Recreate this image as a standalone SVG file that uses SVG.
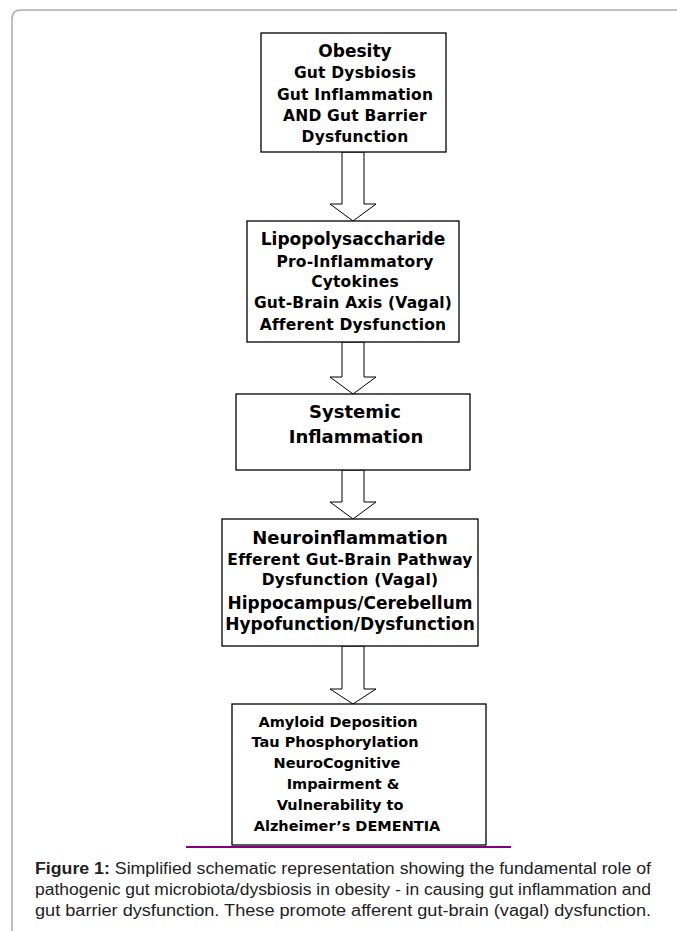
<svg xmlns="http://www.w3.org/2000/svg" width="677" height="931" viewBox="0 0 677 931">
<style>
.box{fill:#fff;stroke:#000;stroke-width:1.3}
.arr{fill:#fff;stroke:#000;stroke-width:1}
.t{font-family:"DejaVu Sans",Verdana,sans-serif;font-weight:bold;fill:#000;text-anchor:middle}
.s{font-size:15.5px;letter-spacing:0.2px}
.x{font-size:14.5px}
.l{font-size:17px}
.m{font-size:18px}
.cap{font-family:"Liberation Sans",Arial,sans-serif;font-size:16px;fill:#222}
</style>
<rect width="677" height="931" fill="#fff"/>
<path d="M12,931 V19 Q12,10 21,10 H677" fill="none" stroke="#aaa" stroke-width="1.5"/>
<g id="connectors">
<polygon class="arr" points="342,152 364,152 364,204 376,204 353,221 330,204 342,204"/>
<polygon class="arr" points="342,342 364,342 364,377 376,377 353,394 330,377 342,377"/>
<polygon class="arr" points="342,470 364,470 364,502 376,502 353,519 330,502 342,502"/>
<polygon class="arr" points="342,646 364,646 364,689 376,689 353,704 330,689 342,689"/>
</g>
<g id="n1">
<rect class="box" x="261" y="33" width="185" height="119"/>
<text class="t l" x="355" y="57">Obesity</text>
<text class="t s" x="355" y="78">Gut Dysbiosis</text>
<text class="t s" x="355" y="100">Gut Inflammation</text>
<text class="t s" x="355" y="121">AND Gut Barrier</text>
<text class="t s" x="355" y="142">Dysfunction</text>
</g>
<g id="n2">
<rect class="box" x="247" y="221" width="212" height="121"/>
<text class="t l" x="353" y="245">Lipopolysaccharide</text>
<text class="t s" x="355" y="267">Pro-Inflammatory</text>
<text class="t s" x="355" y="287">Cytokines</text>
<text class="t s" x="353" y="308">Gut-Brain Axis (Vagal)</text>
<text class="t s" x="353" y="330">Afferent Dysfunction</text>
</g>
<g id="n3">
<rect class="box" x="236" y="394" width="234" height="76"/>
<text class="t m" x="355" y="418">Systemic</text>
<text class="t m" x="356" y="443">Inflammation</text>
</g>
<g id="n4">
<rect class="box" x="222" y="519" width="256" height="127"/>
<text class="t m" x="350" y="544">Neuroinflammation</text>
<text class="t s" x="350" y="565">Efferent Gut-Brain Pathway</text>
<text class="t s" x="350" y="585">Dysfunction (Vagal)</text>
<text class="t l" x="350" y="609">Hippocampus/Cerebellum</text>
<text class="t l" x="350" y="630">Hypofunction/Dysfunction</text>
</g>
<g id="n5">
<rect class="box" x="232" y="704" width="254" height="141"/>
<text class="t x" x="338" y="727">Amyloid Deposition</text>
<text class="t x" x="335" y="747">Tau Phosphorylation</text>
<text class="t x" x="337" y="768">NeuroCognitive</text>
<text class="t x" x="343" y="789">Impairment &amp;</text>
<text class="t x" x="340" y="810">Vulnerability to</text>
<text class="t x" x="347" y="831">Alzheimer’s DEMENTIA</text>
</g>
<line x1="186" y1="847" x2="511" y2="847" stroke="#800080" stroke-width="2"/>
<g id="caption">
<text class="cap" x="35" y="874" textLength="616" lengthAdjust="spacingAndGlyphs"><tspan font-weight="bold">Figure 1:</tspan> Simplified schematic representation showing the fundamental role of</text>
<text class="cap" x="35" y="895" textLength="616" lengthAdjust="spacingAndGlyphs">pathogenic gut microbiota/dysbiosis in obesity - in causing gut inflammation and</text>
<text class="cap" x="35" y="916" textLength="616" lengthAdjust="spacingAndGlyphs">gut barrier dysfunction.  These promote afferent gut-brain (vagal) dysfunction.</text>
</g>
</svg>
